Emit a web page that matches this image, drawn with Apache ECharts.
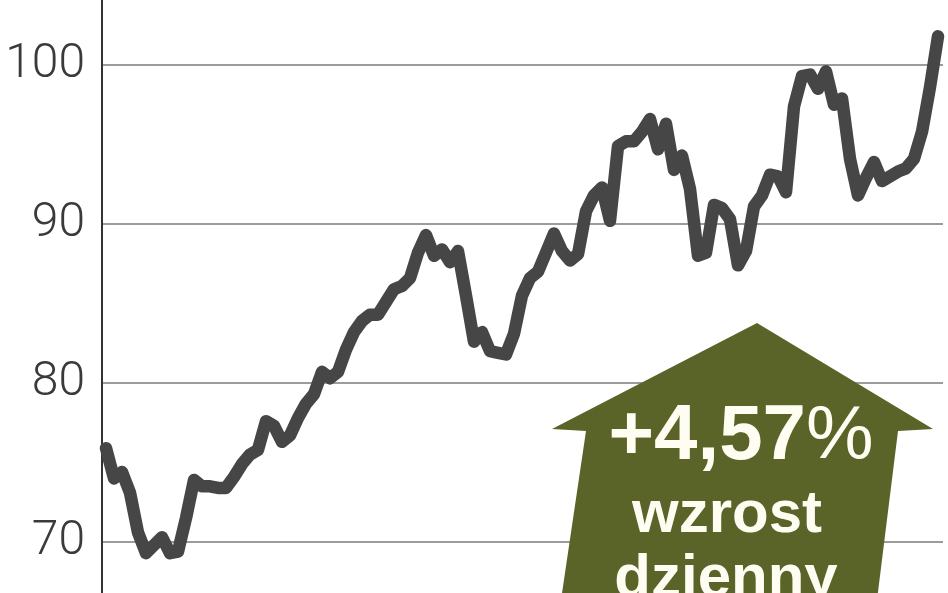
<!DOCTYPE html>
<html>
<head>
<meta charset="utf-8">
<script src="https://cdn.jsdelivr.net/npm/echarts@6/dist/echarts.min.js"></script>
<style>
html,body{margin:0;padding:0;background:#fff;}
#chart{width:948px;height:593px;}
</style>
</head>
<body>
<div id="chart"></div>
<script>
// index values (evenly spaced sessions)
const values = [
  75.9, 74.0, 74.4, 73.1, 70.6, 69.3, 69.8, 70.3, 69.3, 69.4,
  71.5, 73.9, 73.5, 73.5, 73.4, 73.4, 74.1, 74.9, 75.5, 75.8,
  77.6, 77.3, 76.3, 76.7, 77.8, 78.7, 79.3, 80.7, 80.3, 80.7,
  82.1, 83.2, 83.9, 84.3, 84.3, 85.1, 85.9, 86.1, 86.6, 88.2,
  89.3, 88.0, 88.4, 87.6, 88.3, 85.5, 82.6, 83.2, 82.0, 81.9,
  81.8, 83.1, 85.5, 86.6, 87.0, 88.2, 89.4, 88.3, 87.7, 88.1,
  90.8, 91.8, 92.3, 90.2, 94.9, 95.2, 95.2, 95.8, 96.6, 94.7,
  96.3, 93.4, 94.3, 92.2, 88.0, 88.2, 91.2, 91.0, 90.3, 87.4,
  88.3, 91.1, 91.8, 93.1, 93.0, 92.0, 97.4, 99.3, 99.4, 98.5,
  99.6, 97.5, 97.9, 94.1, 91.8, 92.9, 93.9, 92.7, 93.0, 93.3,
  93.5, 94.1, 95.8, 98.6, 101.8
];
const categories = values.map((_, i) => String(i + 1));
const yTickLabels = [70, 80, 90, 100];
const changeText = '+4,57';
const changeUnit = '%';
const captionLines = ['wzrost', 'dzienny'];

const chart = echarts.init(document.getElementById('chart'), null, {renderer: 'canvas'});
chart.setOption({
  animation: false,
  backgroundColor: '#ffffff',
  grid: [
    {left: 106, right: 10, top: 65, bottom: 51, containLabel: false},
    {left: 102, right: 5, top: 65, bottom: 51, containLabel: false},
    {left: 102, right: 5, top: 0, bottom: 0, containLabel: false}
  ],
  xAxis: [
    {type: 'category', data: categories, boundaryGap: false, show: false, gridIndex: 0},
    {type: 'category', data: categories, boundaryGap: false, show: false, gridIndex: 1},
    {type: 'value', show: false, gridIndex: 2}
  ],
  yAxis: [
    {type: 'value', gridIndex: 0, min: 70, max: 100, interval: 10, show: false},
    {
      type: 'value',
      gridIndex: 1,
      min: 70, max: 100, interval: 10,
      axisLine: {show: false},
      axisTick: {show: false},
      splitLine: {show: true, lineStyle: {color: '#9c9c9c', width: 2}},
      axisLabel: {
        margin: 17,
        fontFamily: 'Roboto',
        fontWeight: 300,
        fontSize: 48,
        color: '#3a3a3a',
        formatter: v => yTickLabels.includes(v) ? String(v) : ''
      }
    },
    {
      type: 'value',
      gridIndex: 2,
      min: 0, max: 1,
      axisLine: {show: true, lineStyle: {color: '#333333', width: 2}},
      axisTick: {show: false},
      axisLabel: {show: false},
      splitLine: {show: false}
    }
  ],
  series: [{
    type: 'line',
    xAxisIndex: 0, yAxisIndex: 0,
    data: values,
    symbol: 'none',
    smooth: false,
    clip: false,
    z: 3,
    lineStyle: {color: '#464646', width: 12.5, cap: 'round', join: 'round'}
  }],
  graphic: [
    {
      type: 'polygon',
      z: 10,
      shape: {points: [[757,323],[933,429],[898,431],[877,600],[561,600],[586,431],[552,429]]},
      style: {fill: '#5a6328'}
    },
    {
      type: 'text',
      z: 11,
      x: 741, y: 437,
      style: {
        text: '{a|' + changeText + '}{b|' + changeUnit + '}',
        align: 'center',
        verticalAlign: 'middle',
        rich: {
          a: {fontFamily: 'Liberation Sans', fontWeight: 'bold', fontSize: 78, fill: '#fffdf2', color: '#fffdf2'},
          b: {fontFamily: 'Liberation Sans', fontWeight: 'normal', fontSize: 76, fill: '#fffdf2', color: '#fffdf2'}
        }
      }
    },
    {
      type: 'text',
      z: 11,
      x: 727, y: 515,
      style: {
        text: captionLines[0],
        align: 'center', verticalAlign: 'middle',
        fontFamily: 'Liberation Sans', fontWeight: 'bold', fontSize: 60, fill: '#fffdf2'
      }
    },
    {
      type: 'text',
      z: 11,
      x: 726, y: 579,
      style: {
        text: captionLines[1],
        align: 'center', verticalAlign: 'middle',
        fontFamily: 'Liberation Sans', fontWeight: 'bold', fontSize: 60, fill: '#fffdf2'
      }
    }
  ]
});
</script>
</body>
</html>
